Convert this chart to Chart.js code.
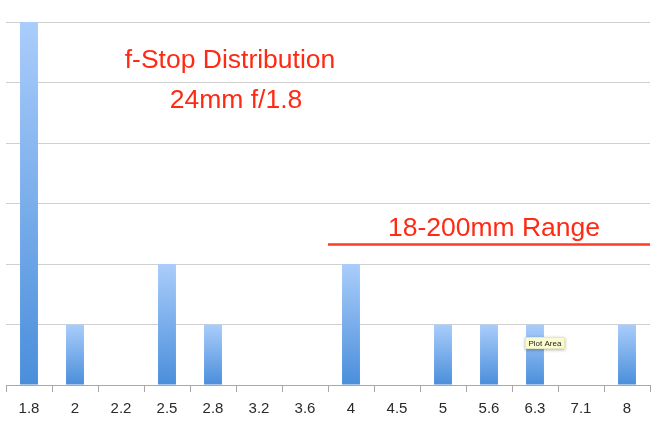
<!DOCTYPE html>
<html><head><meta charset="utf-8">
<script src="https://cdn.jsdelivr.net/npm/chart.js@4/dist/chart.umd.min.js"></script>
<style>html,body{margin:0;padding:0;background:#fff}#wrap{width:655px;height:421px}</style>
</head><body><div id="wrap"><canvas id="c" width="655" height="421"></canvas></div>
<script>
const categories = ["1.8","2","2.2","2.5","2.8","3.2","3.6","4","4.5","5","5.6","6.3","7.1","8"];
const counts = [6,1,0,2,1,0,0,2,0,1,1,1,0,1];
const yMax = 6;

function barGradient(ctx){
  const chart = ctx.chart;
  const area = chart.chartArea;
  if(!area || ctx.type !== 'data') return '#7aaeea';
  const y = chart.scales.y;
  const top = y.getPixelForValue(ctx.raw || 0);
  const base = y.getPixelForValue(0);
  if (base - top < 1) return '#7aaeea';
  const g = chart.ctx.createLinearGradient(0, top, 0, base);
  g.addColorStop(0, '#aacdfb');
  g.addColorStop(1, '#4a8edb');
  return g;
}

const notes = {
  id: 'notes',
  afterDraw(chart){
    const c = chart.ctx, a = chart.chartArea, x = chart.scales.x;
    c.save();
    c.fillStyle = '#ff2a14';
    c.font = '26.5px "Liberation Sans", Arial, sans-serif';
    c.textAlign = 'center';
    c.textBaseline = 'middle';
    c.fillText('f-Stop Distribution', 230, 61);
    c.fillText('24mm f/1.8', 236, 101);
    c.fillText('18-200mm Range', 494, 229);
    const slot = x.getPixelForValue(1) - x.getPixelForValue(0);
    const lx = x.getPixelForValue(7) - slot/2;
    c.strokeStyle = '#ff3a26';
    c.lineWidth = 2.5;
    c.beginPath(); c.moveTo(lx, 244.5); c.lineTo(a.right, 244.5); c.stroke();
    // Plot Area tooltip
    const tx = x.getPixelForValue(11) - 10, ty = 337;
    c.font = '8px "Liberation Sans", Arial, sans-serif';
    c.textAlign = 'left';
    const w = c.measureText('Plot Area').width + 7;
    c.shadowColor = 'rgba(0,0,0,0.3)'; c.shadowBlur = 3; c.shadowOffsetY = 1;
    c.fillStyle = '#fbfbd0';
    c.fillRect(tx, ty, w, 12);
    c.shadowColor = 'transparent';
    c.strokeStyle = '#d8d8a8'; c.lineWidth = 0.5;
    c.strokeRect(tx+0.25, ty+0.25, w-0.5, 11.5);
    c.fillStyle = '#222';
    c.fillText('Plot Area', tx+3.5, ty+6.5);
    c.restore();
  }
};

new Chart(document.getElementById('c'), {
  type: 'bar',
  data: { labels: categories, datasets: [{ data: counts, backgroundColor: barGradient, borderWidth: 0, categoryPercentage: 1, barPercentage: 0.39 }] },
  options: {
    responsive: false, animation: false,
    layout: { padding: { left: 6, right: 5, top: 22, bottom: -5 } },
    plugins: { legend: { display: false }, tooltip: { enabled: false } },
    scales: {
      x: {
        offset: true,
        grid: { offset: true, drawOnChartArea: false, drawTicks: true, tickLength: 7, color: '#a8a8a8' },
        border: { display: true, color: '#a8a8a8', width: 1 },
        ticks: { color: '#2a2a2a', font: { size: 15, family: '"Liberation Sans", Arial, sans-serif' }, padding: 8, maxRotation: 0, autoSkip: false }
      },
      y: {
        min: 0, max: yMax,
        ticks: { display: false, stepSize: 1 },
        grid: { color: '#d0d0d0', drawTicks: false },
        border: { display: false }
      }
    }
  },
  plugins: [notes]
});
</script></body></html>
